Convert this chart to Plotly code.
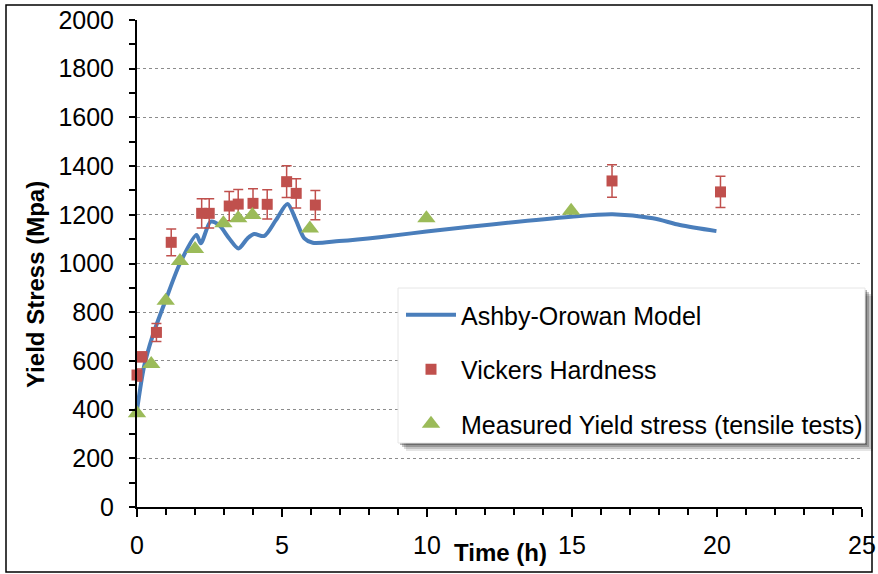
import plotly.graph_objects as go

# Ashby-Orowan model curve
model_t = [0.0, 0.24, 0.53, 0.99, 1.48, 2.05, 2.2, 2.54, 2.83, 3.18, 3.5, 3.81, 4.04, 4.39,
           4.79, 5.19, 5.48, 5.77, 6.06, 6.97, 8.36, 9.98, 14.97, 16.4, 17.79, 18.72, 19.98]
model_y = [398, 575, 700, 850, 1000, 1117, 1083, 1172, 1158, 1103, 1062, 1103, 1121, 1113,
           1178, 1244, 1178, 1103, 1085, 1092, 1108, 1131, 1192, 1202, 1186, 1158, 1133]

# Vickers hardness converted to yield stress
vh_t = [0.0, 0.17, 0.67, 1.18, 2.23, 2.49, 3.18, 3.49, 4.0, 4.49, 5.16, 5.49, 6.15, 16.38, 20.12]
vh_y = [542, 617, 717, 1087, 1206, 1206, 1236, 1244, 1247, 1243, 1336, 1288, 1240, 1339, 1294]
vh_err = [25, 20, 37, 55, 60, 60, 60, 60, 60, 60, 65, 60, 60, 67, 64]

# Tensile tests
ys_t = [0.0, 0.49, 0.99, 1.48, 2.0, 2.98, 3.49, 3.98, 5.96, 9.98, 14.97]
ys_y = [385, 587, 847, 1010, 1060, 1165, 1186, 1199, 1144, 1186, 1217]

W, H = 878, 574
L, R, T, B = 137, 16, 20, 67
PW, PH = W - L - R, H - T - B

FONT = "Liberation Sans, Arial, sans-serif"
BLUE = "#4A7EBB"
RED = "#C0504D"
GREEN = "#9BBB59"


def px_x(p):
    return (p - L) / PW


def px_y(p):
    return (H - B - p) / PH


fig = go.Figure()

fig.add_trace(go.Scatter(
    x=model_t, y=model_y, name="Ashby-Orowan Model", mode="lines",
    line=dict(color=BLUE, width=4, shape="spline", smoothing=0.8),
    legendgroup="a", cliponaxis=False,
))
fig.add_trace(go.Scatter(
    x=vh_t, y=vh_y, name="Vickers Hardness", mode="markers",
    marker=dict(symbol="square", size=11, color=RED),
    error_y=dict(type="data", array=vh_err, color=RED, thickness=1.5, width=5),
    legendgroup="b", cliponaxis=False,
))
fig.add_trace(go.Scatter(
    x=ys_t, y=ys_y, name="Measured Yield stress (tensile tests)", mode="markers",
    marker=dict(symbol="triangle-up", size=16, color=GREEN),
    legendgroup="c", cliponaxis=False,
))

shapes = [
    # outer frame
    dict(type="rect", xref="paper", yref="paper",
         x0=px_x(6), x1=px_x(872), y0=px_y(572), y1=px_y(5),
         line=dict(color="black", width=1.5), layer="below"),
]
# legend box with a soft shadow
for off, op in [(8, 0.10), (6, 0.15), (4, 0.22), (2, 0.30)]:
    shapes.append(dict(type="rect", xref="paper", yref="paper",
                       x0=px_x(398 + off), x1=px_x(865 + off),
                       y0=px_y(443 + off), y1=px_y(288 + off),
                       fillcolor=f"rgba(0,0,0,{op})", line=dict(width=0), layer="above"))
shapes.append(dict(type="rect", xref="paper", yref="paper",
                   x0=px_x(398), x1=px_x(865), y0=px_y(443), y1=px_y(288),
                   fillcolor="white", line=dict(color="#e6e6e6", width=1), layer="above"))

annotations = [
    dict(text="<b>Yield Stress (Mpa)</b>", textangle=-90, xref="paper", yref="paper",
         x=px_x(35), y=px_y(285), showarrow=False, font=dict(family=FONT, size=24, color="black"),
         xanchor="center", yanchor="middle"),
    dict(text="<b>Time (h)</b>", xref="paper", yref="paper",
         x=px_x(500), y=px_y(552), showarrow=False, font=dict(family=FONT, size=24, color="black"),
         xanchor="center", yanchor="middle"),
]

fig.update_layout(
    width=W, height=H,
    margin=dict(l=L, r=R, t=T, b=B, autoexpand=False),
    paper_bgcolor="white", plot_bgcolor="white",
    font=dict(family=FONT, color="black"),
    shapes=shapes, annotations=annotations,
    legend=dict(x=px_x(401), y=px_y(292), xanchor="left", yanchor="top",
                bgcolor="rgba(0,0,0,0)", borderwidth=0,
                font=dict(family=FONT, size=25, color="black"),
                tracegroupgap=19, itemwidth=50),
    showlegend=True,
)

fig.update_xaxes(
    range=[0, 25], dtick=5, tick0=0,
    showline=True, linecolor="black", linewidth=2,
    ticks="outside", ticklen=8, tickwidth=1.5, tickcolor="black",
    minor=dict(dtick=1, ticks="outside", ticklen=6, tickwidth=1.5, tickcolor="black", showgrid=False),
    showgrid=False, zeroline=False,
    tickfont=dict(family="Liberation Sans Narrow, " + FONT, size=25, color="black"),
    ticklabelstandoff=7,
)
fig.update_yaxes(
    range=[0, 2000], dtick=200, tick0=0,
    showline=True, linecolor="black", linewidth=2,
    ticks="outside", ticklen=6, tickwidth=1.5, tickcolor="black",
    minor=dict(dtick=100, ticks="outside", ticklen=6, tickwidth=1.5, tickcolor="black", showgrid=False),
    showgrid=True, gridcolor="#8c8c8c", gridwidth=1, griddash="dot",
    zeroline=False,
    tickfont=dict(family=FONT, size=25, color="black"),
    ticklabelstandoff=10,
)

# the page's default 8px body margin would shift the chart, so drop it
fig.write_html("out.html", config={"displayModeBar": False},
               post_script="document.body.style.margin='0';")
